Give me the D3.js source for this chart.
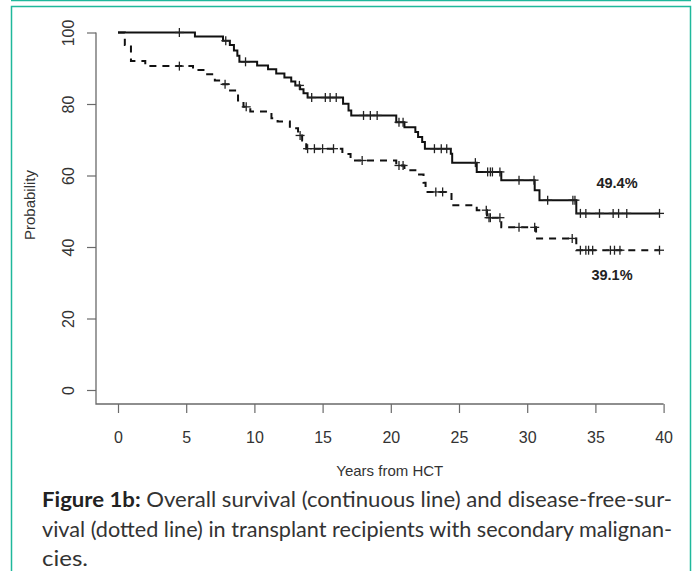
<!DOCTYPE html>
<html>
<head>
<meta charset="utf-8">
<script src="https://cdn.jsdelivr.net/npm/d3@7"></script>
<style>
  html, body { margin: 0; padding: 0; background: #fff; }
  svg { display: block; }
</style>
</head>
<body>
<svg id="chart" width="695" height="571"></svg>
<script>
// ---- Data ----
// Overall survival (solid): [years, probability %] at each step
const osSteps = [[0,100],[5.64,98.9],[7.7,97.7],[8.2,96.5],[8.5,95.0],[8.75,93.5],[8.9,91.8],
  [10.2,90.8],[11.0,89.7],[11.6,88.5],[12.2,87.4],[12.7,86.3],[13.0,85.2],[13.35,84.1],[13.6,83.0],[13.9,81.8],
  [16.5,80.1],[16.9,78.2],[17.1,76.8],[20.4,74.9],[21.0,73.5],[21.8,72.2],[22.0,70.8],[22.3,69.4],[22.5,67.5],
  [24.4,66.1],[24.5,63.6],[26.3,61.0],[28.1,58.7],[30.55,55.9],[30.9,53.1],[33.6,49.4]];
const osCensor = [4.5,7.9,9.35,13.3,14.2,15.2,15.55,16.0,18.0,18.5,19.0,20.6,20.9,23.2,23.7,24.1,
  26.2,27.1,27.3,27.45,28.0,29.4,30.5,31.5,33.35,33.5,33.9,34.3,35.3,36.3,36.7,37.3,39.7];
// Disease-free survival (dashed)
const dfsSteps = [[0,100],[0.5,96.5],[0.95,92.0],[2.0,90.6],[5.5,89.5],[6.4,88.3],[7.1,86.6],[7.5,85.5],
  [8.1,83.8],[8.8,81.0],[9.2,79.2],[9.7,77.9],[11.25,76.0],[11.7,75.1],[12.6,73.2],[13.2,71.2],[13.5,69.8],
  [13.8,67.5],[16.45,66.0],[17.05,64.2],[20.4,62.8],[21.0,61.5],[21.9,60.3],[22.4,58.0],[22.55,55.4],
  [24.45,51.7],[26.3,50.3],[27.05,48.2],[28.1,45.5],[30.65,42.4],[33.6,39.1]];
const dfsCensor = [4.5,7.85,9.4,13.35,13.9,14.4,15.0,15.8,17.9,20.6,20.9,23.3,23.8,27.0,27.2,27.3,
  28.0,29.4,30.55,33.3,33.9,34.3,34.5,34.8,36.1,36.4,36.8,39.7];
const endTime = 39.7;
const xTicks = [0,5,10,15,20,25,30,35,40];
const yTicks = [0,20,40,60,80,100];
const endLabels = ["49.4%","39.1%"];
const xTitle = "Years from HCT";
const yTitle = "Probability";
const captionBold = "Figure 1b:";
const captionLines = [" Overall survival (continuous line) and disease-free-sur-",
  "vival (dotted line) in transplant recipients with secondary malignan-",
  "cies."];

// ---- Layout ----
const svg = d3.select("#chart");
const teal = "#1fb89b";
const axisColor = "#6a6a6a";
const labelColor = "#333";
const tickFont = "16px 'Liberation Sans', Arial, sans-serif";
const x = d3.scaleLinear().domain([0,40]).range([118, 663.6]);
const y = d3.scaleLinear().domain([0,100]).range([390, 32.5]);
const axisX = 96, axisY = 404;

// frame
svg.append("line").attr("x1",11).attr("x2",691).attr("y1",0.5).attr("y2",0.5)
  .attr("stroke",teal).attr("stroke-width",1.5);
svg.append("rect").attr("x",11.5).attr("y",6.5).attr("width",679).attr("height",580)
  .attr("fill","none").attr("stroke",teal).attr("stroke-width",1.5);

// axes
const gy = svg.append("g").attr("transform",`translate(${axisX},0)`)
  .call(d3.axisLeft(y).tickValues(yTicks).tickSize(9).tickSizeOuter(0));
gy.select(".domain").remove();
gy.selectAll(".tick line").attr("stroke",axisColor).attr("stroke-width",1.2);
gy.selectAll(".tick text")
  .attr("x",0).attr("y",0).attr("dy","0.35em")
  .attr("transform","translate(-28,0) rotate(-90)")
  .attr("text-anchor","middle")
  .attr("fill",labelColor).style("font",tickFont);

const gx = svg.append("g").attr("transform",`translate(0,${axisY})`)
  .call(d3.axisBottom(x).tickValues(xTicks).tickSize(9).tickSizeOuter(0));
gx.select(".domain").remove();
gx.selectAll(".tick line").attr("stroke",axisColor).attr("stroke-width",1.2);
gx.selectAll(".tick text").attr("y",39).attr("dy",0)
  .attr("fill",labelColor).style("font",tickFont);

// L-shaped box lines
svg.append("path")
  .attr("d",`M${axisX},${y(100)}V${axisY}H${x(40)}`)
  .attr("fill","none").attr("stroke",axisColor).attr("stroke-width",1.3);

// titles
svg.append("text").attr("x",(x(0)+x(40))/2 - 1).attr("y",476).attr("text-anchor","middle")
  .attr("fill",labelColor).style("font","15px 'Liberation Sans', Arial, sans-serif").text(xTitle);
svg.append("text").attr("transform","translate(35,205) rotate(-90)").attr("text-anchor","middle")
  .attr("fill",labelColor).style("font","15px 'Liberation Sans', Arial, sans-serif").text(yTitle);

// KM curves
function stepPath(steps) {
  const pts = steps.map(d => [x(d[0]), y(d[1])]);
  pts.push([x(endTime), y(steps[steps.length-1][1])]);
  return d3.line().curve(d3.curveStepAfter)(pts);
}
function survAt(steps, t) {
  let v = steps[0][1];
  for (const s of steps) { if (s[0] <= t) v = s[1]; }
  return v;
}
svg.append("path").attr("d",stepPath(osSteps)).attr("fill","none")
  .attr("stroke","#111").attr("stroke-width",2);
svg.append("path").attr("d",stepPath(dfsSteps)).attr("fill","none")
  .attr("stroke","#111").attr("stroke-width",2).attr("stroke-dasharray","7,6");

function censors(steps, times) {
  const g = svg.append("g").attr("stroke","#222").attr("stroke-width",1.3);
  times.forEach(t => {
    const cx = x(t), cy = y(survAt(steps, t));
    g.append("line").attr("x1",cx).attr("x2",cx).attr("y1",cy-4.5).attr("y2",cy+4.5);
    g.append("line").attr("x1",cx-4.5).attr("x2",cx+4.5).attr("y1",cy).attr("y2",cy);
  });
}
censors(osSteps, osCensor);
censors(dfsSteps, dfsCensor);

// end labels
svg.append("text").attr("x",617).attr("y",188).attr("text-anchor","middle")
  .attr("fill","#222").style("font","bold 14.5px 'Liberation Sans', Arial, sans-serif").text(endLabels[0]);
svg.append("text").attr("x",612).attr("y",280).attr("text-anchor","middle")
  .attr("fill","#222").style("font","bold 14.5px 'Liberation Sans', Arial, sans-serif").text(endLabels[1]);

// caption
const capFont = "21px Lato, 'Open Sans', sans-serif";
const t1 = svg.append("text").attr("x",42).attr("y",507)
  .attr("textLength",630).attr("lengthAdjust","spacingAndGlyphs")
  .attr("fill","#333").style("font",capFont);
t1.append("tspan").style("font-weight","bold").attr("fill","#222").text(captionBold);
t1.append("tspan").text(captionLines[0]);
svg.append("text").attr("x",42).attr("y",537)
  .attr("textLength",630).attr("lengthAdjust","spacingAndGlyphs")
  .attr("fill","#333").style("font",capFont).text(captionLines[1]);
svg.append("text").attr("x",42).attr("y",566)
  .attr("textLength",46).attr("lengthAdjust","spacingAndGlyphs")
  .attr("fill","#333").style("font",capFont).text(captionLines[2]);
</script>
</body>
</html>
